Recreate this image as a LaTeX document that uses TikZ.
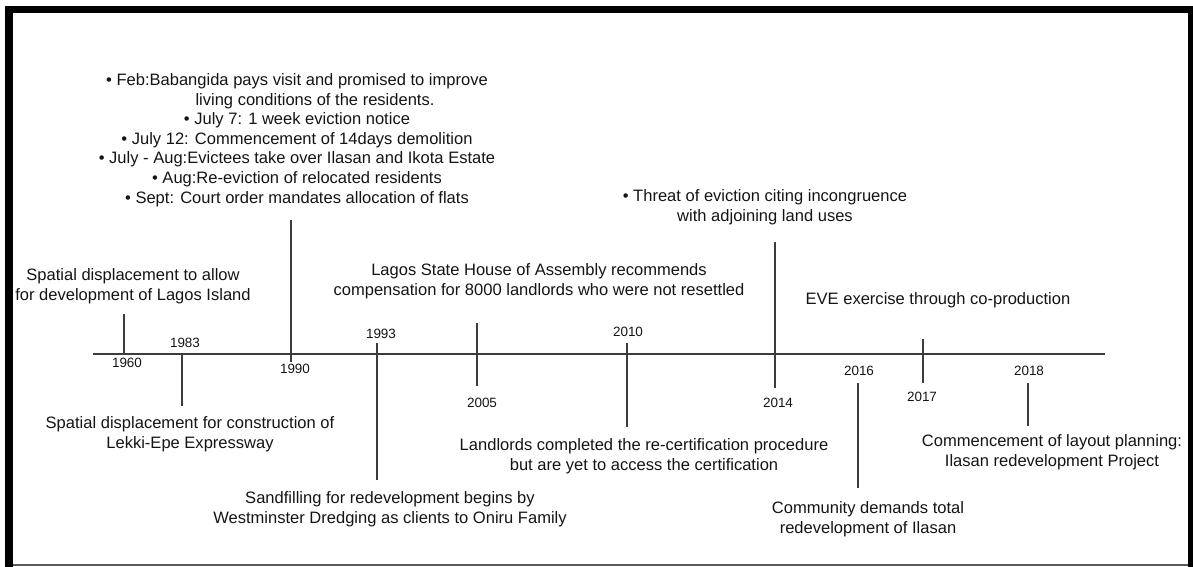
\documentclass[tikz,border=0pt]{standalone}
\usepackage{fontspec}
\setmainfont{Liberation Sans}
\usepackage{tikz}
\usepackage{xcolor}
\definecolor{linegray}{HTML}{3C3C3C}
\definecolor{textgray}{HTML}{141414}

\begin{document}
\begin{tikzpicture}[x=0.75pt,y=-0.75pt,
    tick/.style={linegray,line width=1.2pt},
    event/.style={align=center,inner sep=0pt,text=textgray,font=\fontsize{12.4}{14.7}\selectfont},
    year/.style={inner sep=0pt,text=textgray,font=\fontsize{10.1}{12}\selectfont}]
    \useasboundingbox (0,0) rectangle (1193,567);

    % Frame
    \fill [black] (5,6) rectangle (1193,13);
    \fill [black] (5,6) rectangle (13,567);
    \fill [black] (1188,6) rectangle (1193,567);
    \coordinate (FrameL) at (13,565);
    \coordinate (FrameR) at (1188,565);
    \draw [gray!70!black,line width=1.5pt] (FrameL) to (FrameR);

    % Time axis
    \coordinate (AxisL) at (93,354);
    \coordinate (AxisR) at (1105,354);
    \draw [tick] (AxisL) to (AxisR);

    % 1960
    \coordinate (A1) at (124,314);
    \coordinate (A2) at (124,354);
    \draw [tick] (A1) to (A2);
    \node (Y1960) at (127,363) [year] {1960};
    \node (E1960) at (133,286) [event] {Spatial displacement to allow\\for development of Lagos Island};

    % 1983
    \coordinate (B1) at (182,354);
    \coordinate (B2) at (182,406);
    \draw [tick] (B1) to (B2);
    \node (Y1983) at (185,343) [year] {1983};
    \node (E1983) at (190,434) [event] {Spatial displacement for construction of\\Lekki-Epe Expressway};

    % 1990
    \coordinate (C1) at (291,220);
    \coordinate (C2) at (291,362);
    \draw [tick] (C1) to (C2);
    \node (Y1990) at (295,369) [year] {1990};
    \node (E1990) at (297,140) [event] {\textbullet\ Feb:Babangida pays visit and promised to improve\\
        \hspace*{27pt}living conditions of the residents.\\
        \textbullet\ July 7: 1 week eviction notice\\
        \textbullet\ July 12: Commencement of 14days demolition\\
        \textbullet\ July - Aug:Evictees take over Ilasan and Ikota Estate\\
        \textbullet\ Aug:Re-eviction of relocated residents\\
        \textbullet\ Sept: Court order mandates allocation of flats};

    % 1993
    \coordinate (D1) at (377,343);
    \coordinate (D2) at (377,480);
    \draw [tick] (D1) to (D2);
    \node (Y1993) at (381,334) [year] {1993};
    \node (E1993) at (390,509) [event] {Sandfilling for redevelopment begins by\\Westminster Dredging as clients to Oniru Family};

    % 2005
    \coordinate (E1) at (477,323);
    \coordinate (E2) at (477,386);
    \draw [tick] (E1) to (E2);
    \node (Y2005) at (482,403) [year] {2005};
    \node (E2005) at (539,281) [event] {Lagos State House of Assembly recommends\\compensation for 8000 landlords who were not resettled};

    % 2010
    \coordinate (F1) at (627,343);
    \coordinate (F2) at (627,427);
    \draw [tick] (F1) to (F2);
    \node (Y2010) at (628,332) [year] {2010};
    \node (E2010) at (644,456) [event] {Landlords completed the re-certification procedure\\but are yet to access the certification};

    % 2014
    \coordinate (G1) at (775,242);
    \coordinate (G2) at (775,388);
    \draw [tick] (G1) to (G2);
    \node (Y2014) at (778,403) [year] {2014};
    \node (E2014) at (765,207) [event] {\textbullet\ Threat of eviction citing incongruence\\with adjoining land uses};

    % 2016
    \coordinate (H1) at (858,383);
    \coordinate (H2) at (858,488);
    \draw [tick] (H1) to (H2);
    \node (Y2016) at (859,371) [year] {2016};
    \node (E2016) at (868,519) [event] {Community demands total\\redevelopment of Ilasan};

    % 2017
    \coordinate (I1) at (923,339);
    \coordinate (I2) at (923,383);
    \draw [tick] (I1) to (I2);
    \node (Y2017) at (922,397) [year] {2017};
    \node (E2017) at (938,300) [event] {EVE exercise through co-production};

    % 2018
    \coordinate (J1) at (1028,383);
    \coordinate (J2) at (1028,426);
    \draw [tick] (J1) to (J2);
    \node (Y2018) at (1029,371) [year] {2018};
    \node (E2018) at (1052,452) [event] {Commencement of layout planning:\\Ilasan redevelopment Project};
\end{tikzpicture}
\end{document}
